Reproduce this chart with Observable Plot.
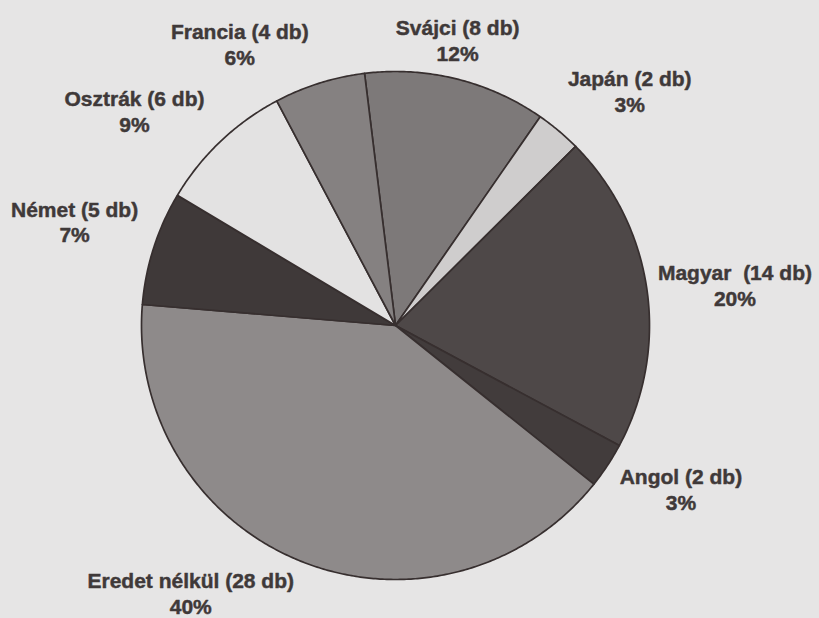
<!DOCTYPE html>
<html>
<head>
<meta charset="utf-8">
<script src="https://cdn.jsdelivr.net/npm/d3@7"></script>
<script src="https://cdn.jsdelivr.net/npm/@observablehq/plot@0.6"></script>
<style>
  html, body { margin: 0; padding: 0; background: #e6e5e5; }
  #chart svg text { white-space: pre; }
</style>
</head>
<body>
<div id="chart"></div>
<script>
// ---- data ----
const origins = ["Svájci", "Japán", "Magyar", "Angol", "Eredet nélkül", "Német", "Osztrák", "Francia"];
const counts = [8, 2, 14, 2, 28, 5, 6, 4];
const nameLabels = ["Svájci (8 db)", "Japán (2 db)", "Magyar  (14 db)", "Angol (2 db)",
                    "Eredet nélkül (28 db)", "Német (5 db)", "Osztrák (6 db)", "Francia (4 db)"];
const percentLabels = ["12%", "3%", "20%", "3%", "40%", "7%", "9%", "6%"];
const sliceColors = ["#7d7979", "#cfcdcd", "#4e4848", "#423c3c", "#8e8a8a", "#3f3939", "#e3e2e2", "#858181"];

// ---- layout ----
const W = 819, H = 618;
const CX = 395, CY = 325, R = 254;          // pie centre and radius in px
const START = -7 * Math.PI / 180;            // first slice starts slightly left of 12 o'clock
const FONT = "Liberation Sans, Arial, sans-serif";
const FS = 21;
// manual label nudges (px) mimicking the hand-placed labels of the original
const nudge = {
  "Svájci": [-16, -5], "Japán": [25, -13], "Magyar": [2, 1], "Angol": [14, 4],
  "Eredet nélkül": [-69, -1], "Német": [-9, -16], "Osztrák": [-31, -5], "Francia": [-56, -6]
};

const rows = origins.map((o, i) => ({
  origin: o, count: counts[i], name: nameLabels[i], pct: percentLabels[i]
}));

const arcs = d3.pie().sort(null).value(d => d.count)
  .startAngle(START).endAngle(START + 2 * Math.PI)(rows);

// slice polygons in pie units (radius = 1, y pointing down)
const slicePts = [];
for (const a of arcs) {
  const n = Math.max(2, Math.ceil((a.endAngle - a.startAngle) / (Math.PI / 360)));
  slicePts.push({origin: a.data.origin, x: 0, y: 0});
  for (let k = 0; k <= n; k++) {
    const t = a.startAngle + (a.endAngle - a.startAngle) * k / n;
    slicePts.push({origin: a.data.origin, x: Math.sin(t), y: -Math.cos(t)});
  }
}

// label positions: box just outside the slice's mid angle, plus nudge
const ctx = document.createElement("canvas").getContext("2d");
ctx.font = `bold ${FS}px ${FONT}`;
const labelRows = arcs.map(a => {
  const m = (a.startAngle + a.endAngle) / 2;
  const ux = Math.sin(m), uy = -Math.cos(m);
  const w = ctx.measureText(a.data.name).width, h = 50;
  const [nx, ny] = nudge[a.data.origin];
  const px = CX + (R + 10) * ux + ux * w / 2 + nx;
  const py = CY + (R + 10) * uy + uy * h / 2 + ny;
  return {x: (px - CX) / R, y: (py - CY) / R, text: a.data.name + "\n" + a.data.pct};
});

const chart = Plot.plot({
  width: W, height: H,
  margin: 0,
  style: {background: "transparent", fontFamily: FONT},
  x: {domain: [-CX / R, (W - CX) / R], range: [0, W], axis: null},
  y: {domain: [-CY / R, (H - CY) / R], range: [0, H], axis: null},
  color: {domain: origins, range: sliceColors},
  marks: [
    Plot.line(slicePts, {
      x: "x", y: "y", z: "origin", fill: "origin",
      stroke: "#372f2f", strokeWidth: 1.7, strokeLinejoin: "round",
      curve: "linear-closed"
    }),
    Plot.text(labelRows, {
      x: "x", y: "y", text: "text",
      fontSize: FS, fontWeight: "bold", fontFamily: FONT,
      lineHeight: 1.22, fill: "#3f3939",
      stroke: "#3f3939", strokeWidth: 0.45,
      textAnchor: "middle", lineAnchor: "middle"
    })
  ]
});
document.getElementById("chart").appendChild(chart);
</script>
</body>
</html>
